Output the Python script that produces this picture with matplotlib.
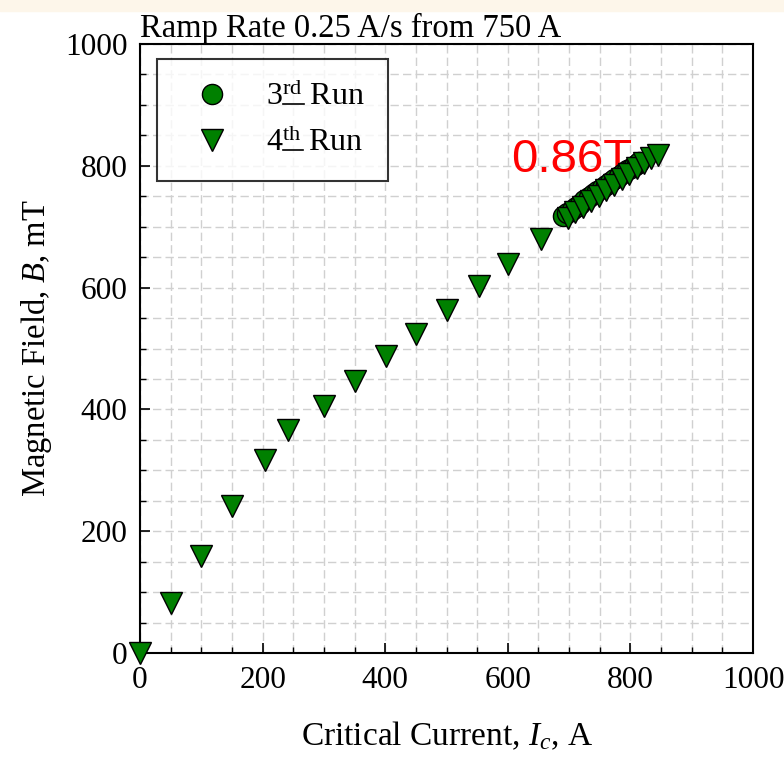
import numpy as np
import matplotlib
matplotlib.use("Agg")
import matplotlib.pyplot as plt
from matplotlib.ticker import MultipleLocator
from matplotlib.patches import Rectangle
from matplotlib.lines import Line2D

plt.rcParams['font.family'] = ['Liberation Serif', 'DejaVu Serif']
plt.rcParams['mathtext.fontset'] = 'custom'
plt.rcParams['mathtext.rm'] = 'Liberation Serif'
plt.rcParams['mathtext.it'] = 'Liberation Serif:italic'

# 3rd run (circles)
ic_3rd = [690, 697, 704, 711, 718, 725, 732, 739, 746, 753,
          760, 767, 774, 781, 788, 795, 801, 806, 810, 814]
b_3rd = [717, 722, 727, 733, 738, 743, 748, 753, 758, 763,
         768, 773, 778, 783, 788, 793, 797, 800, 803, 806]

# 4th run (triangles)
ic_4th = [0, 50, 100, 150, 204, 241, 300, 350, 401, 451, 500, 553, 601, 654,
          698, 710, 722, 735, 748, 760, 773, 786, 798, 810, 822, 834, 845]
b_4th = [0, 82, 160, 242, 317, 366, 406, 447, 487, 524, 563, 602, 639, 679,
         714, 724, 733, 742, 751, 760, 769, 778, 787, 796, 805, 812, 818]

run_labels = ['3$^{\\mathrm{rd}}$ Run', '4$^{\\mathrm{th}}$ Run']

fig = plt.figure(figsize=(7.84, 7.62), dpi=100)
fig.patches.append(Rectangle((0, 0.985), 1, 0.015, transform=fig.transFigure,
                             color='#fdf6ea', zorder=0))
ax = fig.add_axes([0.1786, 0.1430, 0.7819, 0.7993])

ax.plot(ic_3rd, b_3rd, 'o', ms=14.5, mfc='#008000', mec='black', mew=1,
        label=run_labels[0], clip_on=False, zorder=3)
ax.plot(ic_4th, b_4th, 'v', ms=15.5, mfc='#008000', mec='black', mew=1,
        label=run_labels[1], clip_on=False, zorder=4)

ax.text(605, 789, '0.86T', color='red', fontsize=34,
        family='Liberation Sans', zorder=2)

ax.set_xlim(0, 1000)
ax.set_ylim(0, 1000)
ax.xaxis.set_major_locator(MultipleLocator(200))
ax.yaxis.set_major_locator(MultipleLocator(200))
ax.xaxis.set_minor_locator(MultipleLocator(50))
ax.yaxis.set_minor_locator(MultipleLocator(50))
ax.tick_params(which='both', direction='in', top=False, right=False,
               labelsize=22.5, pad=9)
ax.tick_params(which='major', length=7, width=1.2)
ax.tick_params(which='minor', length=4, width=1)
ax.grid(which='both', color='#d0d0d0', linestyle=(0, (6, 3)), linewidth=1)
ax.set_axisbelow(True)
for sp in ax.spines.values():
    sp.set_linewidth(1.5)

ax.set_xlabel('Critical Current, $I_c$, A', fontsize=24, labelpad=18)
ax.set_ylabel('Magnetic Field, $B$, mT', fontsize=23.5, labelpad=8)
ax.set_title('Ramp Rate 0.25 A/s from 750 A', fontsize=23.5, loc='left',
             pad=5)

leg = ax.legend(loc='upper left', bbox_to_anchor=(0.028, 0.976), fontsize=23,
                frameon=True, fancybox=False, edgecolor='black',
                borderaxespad=0, borderpad=0.72, handletextpad=0.7,
                labelspacing=0.5, handlelength=2.0)
leg.get_frame().set_linewidth(1.5)

# underline the ordinal suffixes in the legend
fig.canvas.draw()
renderer = fig.canvas.get_renderer()
for t in leg.get_texts():
    bb = t.get_window_extent(renderer)
    prop = t.get_fontproperties()
    s = t.get_text()
    w_num, h_num, _ = renderer.get_text_width_height_descent(s[0], prop, ismath=False)
    w_sup, _, _ = renderer.get_text_width_height_descent(s.split(' ')[0], prop, ismath=True)
    _, _, d_all = renderer.get_text_width_height_descent(s, prop, ismath=True)
    base = bb.y0 + d_all
    x0 = bb.x0 + w_num + 1
    x1 = bb.x0 + w_sup + 1
    y = base + 0.3 * h_num
    fig.add_artist(Line2D([x0, x1], [y, y], transform=None, color='black',
                          linewidth=1.2, zorder=10))

fig.savefig('out.png', dpi=100)
